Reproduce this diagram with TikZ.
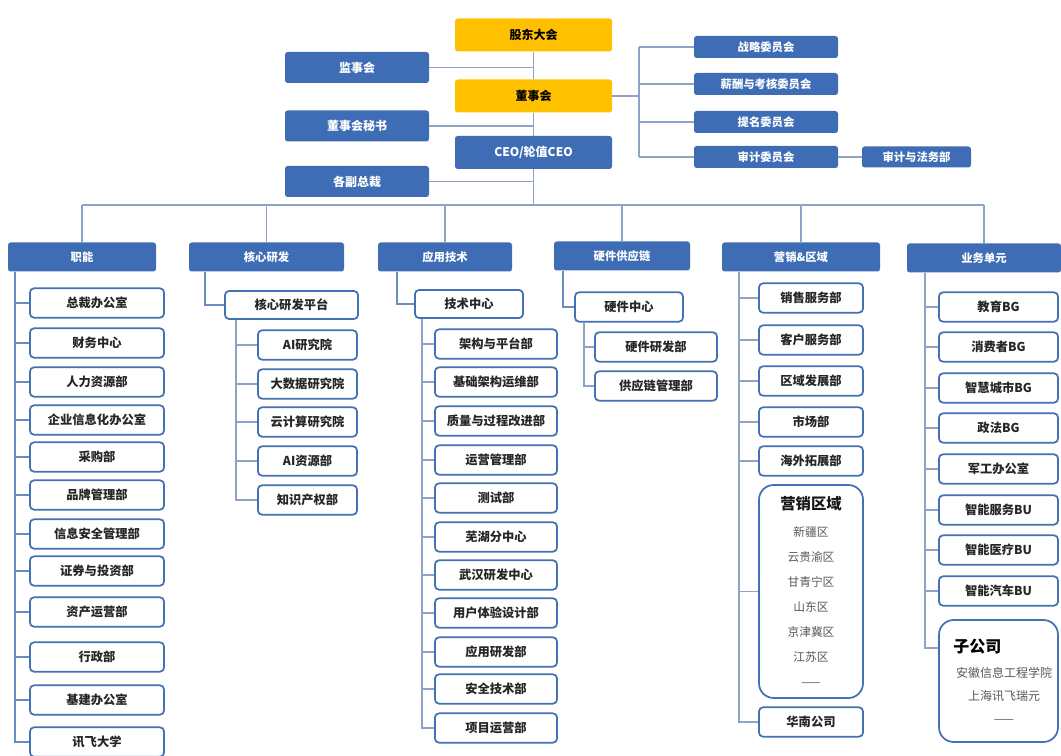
\documentclass[tikz,border=0pt]{standalone}
\usepackage{fontspec}
\setmainfont{Noto Sans CJK SC}
\usetikzlibrary{positioning}
\definecolor{boxblue}{HTML}{3E6DB5}
\definecolor{boxgold}{HTML}{FFC000}
\definecolor{linegray}{HTML}{8FA3C6}
\definecolor{edgeblue}{HTML}{4470B4}

\begin{document}
\begin{tikzpicture}[
  x=0.75pt, y=-0.75pt,
  head/.style={rectangle, fill=boxblue, text=white, rounded corners=2pt,
    font=\fontsize{9}{10}\selectfont\bfseries, inner sep=1pt},
  gold/.style={head, fill=boxgold, text=black},
  cmte/.style={head, minimum width=108pt, minimum height=16.5pt,
    font=\fontsize{8.5}{9}\selectfont\bfseries},
  unit/.style={head, minimum height=21.75pt, font=\fontsize{8.5}{9}\selectfont\bfseries},
  dept/.style={rectangle, draw=edgeblue, line width=1.3pt, fill=white,
    rounded corners=3pt, text=black!85, font=\fontsize{9.2}{10}\selectfont\bfseries,
    inner sep=1pt, minimum height=22pt},
  region/.style={dept, rounded corners=11pt},
  item/.style={font=\fontsize{9}{10}\selectfont, text=black!65, inner sep=0pt},
  conn/.style={draw=linegray, line width=1.2pt},
]
\useasboundingbox (0,0) rectangle (1061,756);

% governance
\node[gold, minimum width=117.75pt, minimum height=24.75pt] (gd) at (533.5,35) {股东大会};
\node[gold, minimum width=117.75pt, minimum height=24.75pt] (dsh) at (533.5,96) {董事会};
\node[head, minimum width=117.75pt, minimum height=24.75pt] (ceo) at (533.5,152.5) {CEO/轮值CEO};
\node[head, minimum width=108pt, minimum height=23.25pt] (jsh) at (357,67.5) {监事会};
\node[head, minimum width=108pt, minimum height=23.25pt] (ms) at (357,126) {董事会秘书};
\node[head, minimum width=108pt, minimum height=23.25pt] (fz) at (357,181.5) {各副总裁};
\coordinate (bus) at (533.5,205);
\draw[conn] (gd) -- (dsh);
\draw[conn] (dsh) -- (ceo);
\draw[conn] (ceo) -- (bus);
\draw[conn] (jsh.east) -- (jsh.east -| gd.south);
\draw[conn] (ms.east) -- (ms.east -| gd.south);
\draw[conn] (fz.east) -- (fz.east -| gd.south);

% committees
\node[cmte] (zl) at (766,47) {战略委员会};
\node[cmte] (xc) at (766,84) {薪酬与考核委员会};
\node[cmte] (tm) at (766,122) {提名委员会};
\node[cmte] (sj) at (766,157) {审计委员会};
\node[cmte, minimum width=81.75pt, minimum height=15.75pt] (sjf) at (916.5,157) {审计与法务部};
\coordinate (cb) at (639,96);
\draw[conn] (dsh.east) -- (cb);
\draw[conn] (cb |- zl.west) -- (cb |- sj.west);
\foreach \c in {zl,xc,tm,sj} \draw[conn] (cb |- \c.west) -- (\c.west);
\draw[conn] (sj) -- (sjf);

% business lines
\node[unit, minimum width=111pt] (zn) at (82,257) {职能};
\node[unit, minimum width=116.25pt] (hx) at (266.5,257) {核心研发};
\node[unit, minimum width=100.5pt] (yy) at (445,257) {应用技术};
\node[unit, minimum width=102pt] (yj) at (622,256) {硬件供应链};
\node[unit, minimum width=118.5pt] (yx) at (801,257) {营销\&区域};
\node[unit, minimum width=115.5pt] (yw) at (984,258) {业务单元};
\draw[conn] (zn.north |- bus) -- (yw.north |- bus);
\foreach \u in {zn,hx,yy,yj,yx,yw} \draw[conn] (\u.north) -- (\u.north |- bus);

% 职能
\coordinate (znS) at ([xshift=5.25pt]zn.south west);
\foreach \n/\yy/\t in {zn1/303/总裁办公室, zn2/343/财务中心, zn3/382/人力资源部,
    zn4/420/企业信息化办公室, zn5/457/采购部, zn6/495/品牌管理部,
    zn7/534/信息安全管理部, zn8/571/证券与投资部, zn9/612/资产运营部,
    zn10/657/行政部, zn11/700/基建办公室, zn12/742/讯飞大学} {
  \node[dept, minimum width=100.5pt] (\n) at (97,\yy) {\t};
  \draw[conn, draw=edgeblue!80] (znS) |- (\n.west);
}

% 核心研发
\node[dept, minimum width=99.75pt, minimum height=21pt] (hxp) at (291.5,305) {核心研发平台};
\draw[conn, draw=edgeblue!80] ([xshift=12pt]hx.south west) |- (hxp.west);
\coordinate (hxS) at ([xshift=9pt]hxp.south west);
\foreach \n/\yy/\t in {hx1/345/AI研究院, hx2/384/大数据研究院, hx3/422/云计算研究院,
    hx4/461/AI资源部, hx5/500/知识产权部} {
  \node[dept, minimum width=74.25pt] (\n) at (307.5,\yy) {\t};
  \draw[conn] (hxS) |- (\n.west);
}

% 应用技术
\node[dept, minimum width=81pt, minimum height=21pt] (jsz) at (469,304) {技术中心};
\draw[conn, draw=edgeblue!80] ([xshift=14.25pt]yy.south west) |- (jsz.west);
\coordinate (jsS) at ([xshift=6pt]jsz.south west);
\foreach \n/\yy/\t in {js1/344/架构与平台部, js2/382/基础架构运维部, js3/421/质量与过程改进部,
    js4/460/运营管理部, js5/498/测试部, js6/537/芜湖分中心, js7/575/武汉研发中心,
    js8/613/用户体验设计部, js9/652/应用研发部, js10/689/安全技术部, js11/728/项目运营部} {
  \node[dept, minimum width=91.5pt] (\n) at (496,\yy) {\t};
  \draw[conn] (jsS) |- (\n.west);
}

% 硬件供应链
\node[dept, minimum width=81pt] (yjz) at (629,307) {硬件中心};
\draw[conn, draw=edgeblue!80] ([xshift=6.75pt]yj.south west) |- (yjz.west);
\coordinate (yjS) at ([xshift=7.5pt]yjz.south west);
\node[dept, minimum width=91.5pt] (yj1) at (656,347) {硬件研发部};
\node[dept, minimum width=91.5pt] (yj2) at (656,386) {供应链管理部};
\draw[conn] (yjS) |- (yj1.west);
\draw[conn] (yjS) |- (yj2.west);

% 营销&区域
\coordinate (yxS) at ([xshift=12.75pt]yx.south west);
\foreach \n/\yy/\t in {yx1/298/销售服务部, yx2/340/客户服务部, yx3/381/区域发展部,
    yx4/422/市场部, yx5/461/海外拓展部, yx7/722/华南公司} {
  \node[dept, minimum width=78pt] (\n) at (811,\yy) {\t};
  \draw[conn] (yxS) |- (\n.west);
}
\node[region, minimum width=78pt, minimum height=159.75pt, align=center,
  font=\fontsize{8.8}{18.75}\selectfont, text=black!65] (yxq) at (811,591.5)
  {{\fontsize{11.5}{12}\selectfont\bfseries\color{black!90}营销区域}\\[1pt]
   新疆区\\ 云贵渝区\\ 甘青宁区\\ 山东区\\ 京津冀区\\ 江苏区\\ ——};
\draw[conn] (yxS) |- (yxq.west);

% 业务单元
\coordinate (ywS) at ([xshift=13.5pt]yw.south west);
\foreach \n/\yy/\t in {yw1/307/教育BG, yw2/347/消费者BG, yw3/388/智慧城市BG,
    yw4/428/政法BG, yw5/469/军工办公室, yw6/510/智能服务BU,
    yw7/550/智能医疗BU, yw8/591/智能汽车BU} {
  \node[dept, minimum width=89.25pt] (\n) at (998.5,\yy) {\t};
  \draw[conn] (ywS) |- (\n.west);
}
\node[region, minimum width=89.25pt, minimum height=91.5pt] (zgs) at (998.5,681) {};
\draw[conn] (ywS) |- (zgs.west |- 0,648);
\node[font=\fontsize{12}{12}\selectfont\bfseries, anchor=west, inner sep=0pt]
  (zgsT) at (953,647) {子公司};
\node[item] (zgs1) at (1004,673) {安徽信息工程学院};
\node[item] (zgs2) at (1004,696) {上海讯飞瑞元};
\node[item] (zgs3) at (1004,722) {——};
\end{tikzpicture}
\end{document}
